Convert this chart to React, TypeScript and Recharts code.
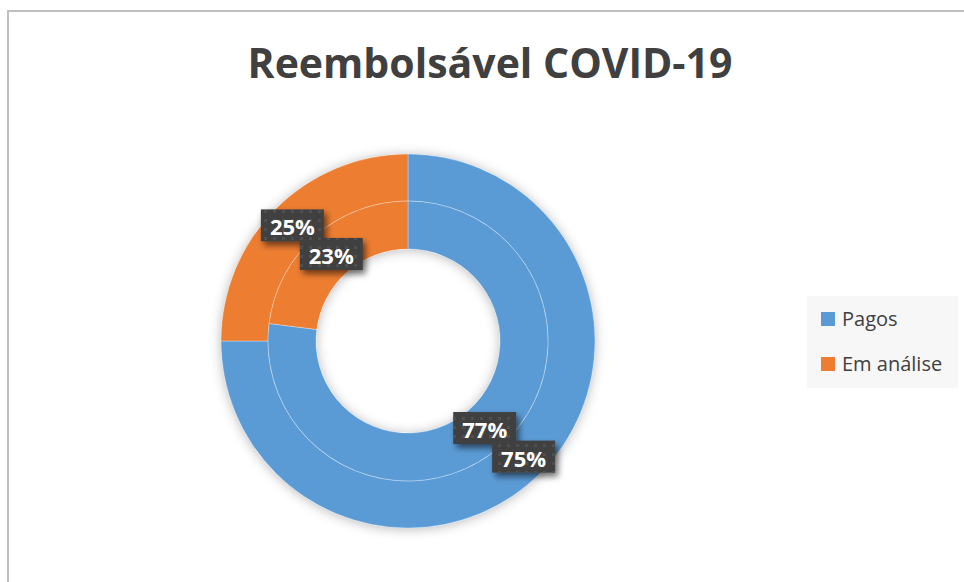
import { PieChart, Pie, Cell, Legend } from 'recharts';

const categories = ['Pagos', 'Em análise'];
const innerValues = [77, 23];
const outerValues = [75, 25];
const colors = ['#5B9BD5', '#ED7D31'];

const innerData = categories.map((name, i) => ({ name, value: innerValues[i] }));
const outerData = categories.map((name, i) => ({ name, value: outerValues[i] }));
const ringData = [{ name: 'ring', value: 1 }];

const RAD = Math.PI / 180;

// label box drawn at the middle of the ring, only for the names passed in
const boxLabel = (only: string[]) => (props: any) => {
  const { cx, cy, midAngle, innerRadius, outerRadius, percent, name } = props;
  if (!only.includes(name)) return <g />;
  const r = (innerRadius + outerRadius) / 2;
  const x = cx + r * Math.cos(-midAngle * RAD);
  const y = cy + r * Math.sin(-midAngle * RAD);
  const w = 63;
  const h = 32;
  return (
    <g>
      <rect x={x - w / 2} y={y - h / 2} width={w} height={h} fill="#404040" filter="url(#boxShadow)" />
      <rect x={x - w / 2} y={y - h / 2} width={w} height={h} fill="url(#dots)" />
      <text
        x={x}
        y={y + 1}
        textAnchor="middle"
        dominantBaseline="central"
        fill="#fff"
        fontSize={22}
        fontWeight={700}
        fontFamily="'Open Sans', sans-serif"
      >
        {`${Math.round(percent * 100)}%`}
      </text>
    </g>
  );
};

function LegendBox() {
  return (
    <div
      style={{
        width: 151,
        height: 92,
        background: '#f7f7f7',
        paddingTop: 8,
        boxSizing: 'border-box',
        fontFamily: "'Open Sans', sans-serif",
        fontSize: 20,
        color: '#404040',
      }}
    >
      {categories.map((name, i) => (
        <div
          key={name}
          style={{ display: 'flex', alignItems: 'center', height: 30, marginBottom: 15, paddingLeft: 14 }}
        >
          <span style={{ width: 14, height: 14, background: colors[i], marginRight: 7, flex: 'none' }} />
          <span style={{ lineHeight: '30px' }}>{name}</span>
        </div>
      ))}
    </div>
  );
}

export default function App() {
  const cx = 408;
  const cy = 341;
  return (
    <div style={{ position: 'absolute', top: 0, left: 0, width: 964, height: 582, background: '#fff', overflow: 'hidden' }}>
      <style>{`.donut-shadow .recharts-sector { filter: url(#ringShadow); }`}</style>
      <svg width={0} height={0} style={{ position: 'absolute' }}>
        <defs>
          <filter id="ringShadow" x="-20%" y="-20%" width="140%" height="140%">
            <feDropShadow dx={0} dy={1} stdDeviation={6} floodColor="#000" floodOpacity={0.28} />
          </filter>
          <filter id="boxShadow" x="-30%" y="-40%" width="170%" height="190%">
            <feDropShadow dx={3} dy={4} stdDeviation={3} floodColor="#000" floodOpacity={0.55} />
          </filter>
          <pattern id="dots" width={9} height={9} patternUnits="userSpaceOnUse">
            <rect x={3} y={3} width={3} height={3} fill="#4f4f4f" />
          </pattern>
        </defs>
      </svg>

      <div
        style={{
          position: 'absolute',
          left: 7,
          top: 10,
          width: 1000,
          height: 1000,
          borderTop: '2px solid #bfbfbf',
          borderLeft: '2px solid #bfbfbf',
        }}
      />

      <div
        style={{
          position: 'absolute',
          top: 42,
          left: 0,
          width: 980,
          textAlign: 'center',
          fontFamily: "'Open Sans', sans-serif",
          fontWeight: 700,
          fontSize: 41,
          lineHeight: '41px',
          color: '#404040',
        }}
      >
        Reembolsável COVID-19
      </div>

      <div style={{ position: 'absolute', top: 0, left: 0 }}>
        <PieChart width={964} height={582} margin={{ top: 0, right: 0, bottom: 0, left: 0 }}>
          <Pie
            className="donut-shadow"
            data={ringData}
            dataKey="value"
            cx={cx}
            cy={cy}
            innerRadius={92}
            outerRadius={187}
            fill="#fff"
            stroke="none"
            isAnimationActive={false}
            legendType="none"
          />
          <Pie
            data={outerData}
            dataKey="value"
            nameKey="name"
            cx={cx}
            cy={cy}
            innerRadius={140}
            outerRadius={187}
            startAngle={90}
            endAngle={-270}
            stroke="#fff"
            strokeWidth={1}
            strokeOpacity={0.3}
            isAnimationActive={false}
          >
            {outerData.map((d, i) => (
              <Cell key={d.name} fill={colors[i]} />
            ))}
          </Pie>
          <Pie
            data={innerData}
            dataKey="value"
            nameKey="name"
            cx={cx}
            cy={cy}
            innerRadius={92}
            outerRadius={140}
            startAngle={90}
            endAngle={-270}
            stroke="#fff"
            strokeWidth={1}
            strokeOpacity={0.3}
            isAnimationActive={false}
          >
            {innerData.map((d, i) => (
              <Cell key={d.name} fill={colors[i]} />
            ))}
          </Pie>
          {/* label-only layers so boxes overlap like the original */}
          <Pie
            data={outerData}
            dataKey="value"
            nameKey="name"
            cx={cx}
            cy={cy}
            innerRadius={140}
            outerRadius={187}
            startAngle={90}
            endAngle={-270}
            fill="none"
            stroke="none"
            label={boxLabel(['Em análise'])}
            labelLine={false}
            isAnimationActive={false}
            legendType="none"
          />
          <Pie
            data={innerData}
            dataKey="value"
            nameKey="name"
            cx={cx}
            cy={cy}
            innerRadius={92}
            outerRadius={140}
            startAngle={90}
            endAngle={-270}
            fill="none"
            stroke="none"
            label={boxLabel(categories)}
            labelLine={false}
            isAnimationActive={false}
            legendType="none"
          />
          <Pie
            data={outerData}
            dataKey="value"
            nameKey="name"
            cx={cx}
            cy={cy}
            innerRadius={140}
            outerRadius={187}
            startAngle={90}
            endAngle={-270}
            fill="none"
            stroke="none"
            label={boxLabel(['Pagos'])}
            labelLine={false}
            isAnimationActive={false}
            legendType="none"
          />
          <Legend
            content={() => <LegendBox />}
            wrapperStyle={{ position: 'absolute', left: 807, top: 296, width: 151, height: 92 }}
          />
        </PieChart>
      </div>
    </div>
  );
}
